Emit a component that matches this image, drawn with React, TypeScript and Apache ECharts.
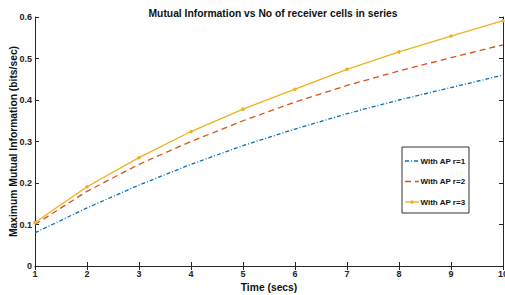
import React, { useEffect, useRef } from "react";
import * as echarts from "echarts";

const xValues = [1, 2, 3, 4, 5, 6, 7, 8, 9, 10];
const seriesNames = ["With AP r=1", "With AP r=2", "With AP r=3"];
const r1 = [0.08, 0.14, 0.195, 0.245, 0.29, 0.33, 0.367, 0.4, 0.43, 0.46];
const r2 = [0.1, 0.18, 0.245, 0.3, 0.35, 0.395, 0.435, 0.47, 0.502, 0.533];
const r3 = [0.105, 0.191, 0.261, 0.324, 0.378, 0.426, 0.474, 0.516, 0.554, 0.591];
const colors = ["#0072BD", "#D95319", "#EDB120"];
const dashes: any[] = [[4, 2, 1, 2], [6, 4], "solid"];

const FONT = "Liberation Sans, Arial, sans-serif";

export default function App() {
  const ref = useRef<HTMLDivElement>(null);
  useEffect(() => {
    if (!ref.current) return;
    const chart = echarts.init(ref.current, null, { renderer: "svg" });
    const toPts = (arr: number[]) => xValues.map((x, i) => [x, arr[i]]);
    const axisLine = { show: true, lineStyle: { color: "#262626", width: 1 } };
    const tick = { show: true, inside: true, length: 4, lineStyle: { color: "#262626" } };

    const legendLeft = 402;
    const legendTop = 147;
    const legendEls: any[] = [
      {
        type: "rect",
        shape: { x: legendLeft, y: legendTop, width: 67, height: 66 },
        style: { fill: "#fff", stroke: "#333", lineWidth: 1 },
        z: 100,
      },
    ];
    seriesNames.forEach((name, i) => {
      const cy = legendTop + 14 + i * 20.5;
      legendEls.push({
        type: "line",
        shape: { x1: legendLeft + 3, y1: cy, x2: legendLeft + 17, y2: cy },
        style: { stroke: colors[i], lineWidth: 1.3, lineDash: dashes[i] === "solid" ? null : dashes[i] },
        z: 101,
      });
      if (i === 2) {
        legendEls.push({
          type: "circle",
          shape: { cx: legendLeft + 10, cy, r: 1.8 },
          style: { fill: colors[i] },
          z: 101,
        });
      }
      legendEls.push({
        type: "text",
        x: legendLeft + 18.5,
        y: cy,
        style: {
          text: name,
          fontSize: 8,
          fontWeight: "bold",
          fontFamily: FONT,
          fill: "#111",
          verticalAlign: "middle",
          align: "left",
        },
        z: 101,
      });
    });

    chart.setOption({
      animation: false,
      backgroundColor: "#fff",
      textStyle: { fontFamily: FONT },
      title: {
        text: "Mutual Information vs No of receiver cells in series",
        left: 268,
        textAlign: "center",
        top: 3,
        textStyle: { fontSize: 10.3, fontWeight: "bold", color: "#111", fontFamily: FONT },
      },
      grid: { left: 35, right: 2, top: 17, bottom: 29, outerBoundsMode: "none", containLabel: false },
      graphic: legendEls,
      xAxis: [
        {
          type: "value",
          min: 1,
          max: 10,
          interval: 1,
          name: "Time (secs)",
          nameLocation: "middle",
          nameGap: 16,
          nameMoveOverlap: false,
          nameTextStyle: { fontSize: 10.3, fontWeight: "bold", color: "#111" },
          axisLine,
          axisTick: tick,
          splitLine: { show: false },
          axisLabel: { fontSize: 9, fontWeight: "bold", color: "#222", margin: 3 },
        },
        {
          type: "value",
          position: "top",
          min: 1,
          max: 10,
          interval: 1,
          axisLine,
          axisTick: tick,
          axisLabel: { show: false },
          splitLine: { show: false },
        },
      ],
      yAxis: [
        {
          type: "value",
          min: 0,
          max: 0.6,
          interval: 0.1,
          name: "Maximum Mutual Information (bits/sec)",
          nameLocation: "middle",
          nameGap: 17,
          nameMoveOverlap: false,
          nameTextStyle: { fontSize: 10.3, fontWeight: "bold", color: "#111" },
          axisLine,
          axisTick: tick,
          splitLine: { show: false },
          axisLabel: { fontSize: 9, fontWeight: "bold", color: "#222", margin: 3, formatter: (v: number) => (v === 0 ? "0" : v.toFixed(1)) },
        },
        {
          type: "value",
          position: "right",
          min: 0,
          max: 0.6,
          interval: 0.1,
          axisLine,
          axisTick: tick,
          axisLabel: { show: false },
          splitLine: { show: false },
        },
      ],
      series: [
        {
          name: seriesNames[0],
          type: "line",
          data: toPts(r1),
          showSymbol: false,
          symbol: "none",
          color: colors[0],
          lineStyle: { width: 1.3, type: dashes[0] },
        },
        {
          name: seriesNames[1],
          type: "line",
          data: toPts(r2),
          showSymbol: false,
          symbol: "none",
          color: colors[1],
          lineStyle: { width: 1.3, type: dashes[1] },
        },
        {
          name: seriesNames[2],
          type: "line",
          data: toPts(r3),
          symbol: "circle",
          symbolSize: 3.5,
          color: colors[2],
          lineStyle: { width: 1.3 },
        },
      ],
    });
    return () => chart.dispose();
  }, []);
  return <div ref={ref} style={{ position: "fixed", left: 0, top: 0, width: 505, height: 295 }} />;
}
